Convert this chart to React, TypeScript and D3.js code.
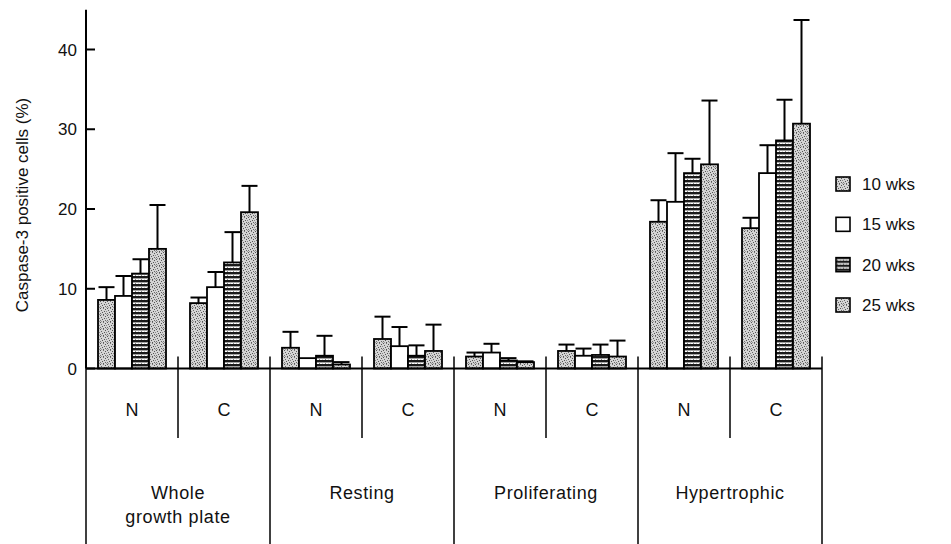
import React from "react";
import * as d3 from "d3";

// ---- data ----
const regions = ["Whole growth plate", "Resting", "Proliferating", "Hypertrophic"];
const regionLines = [["Whole", "growth plate"], ["Resting"], ["Proliferating"], ["Hypertrophic"]];
const conditions = ["N", "C"];
const seriesNames = ["10 wks", "15 wks", "20 wks", "25 wks"];
const yTicks = [0, 10, 20, 30, 40];

// order of values: Whole N, Whole C, Resting N, Resting C, Prolif N, Prolif C, Hypert N, Hypert C
const mean10 = [8.6, 8.2, 2.6, 3.7, 1.5, 2.2, 18.4, 17.6];
const mean15 = [9.1, 10.2, 1.3, 2.8, 2.0, 1.6, 20.9, 24.5];
const mean20 = [11.9, 13.3, 1.6, 1.6, 1.0, 1.7, 24.5, 28.6];
const mean25 = [15.0, 19.6, 0.5, 2.2, 0.8, 1.5, 25.6, 30.7];

const sd10 = [1.6, 0.7, 2.0, 2.8, 0.5, 0.8, 2.7, 1.3];
const sd15 = [2.5, 1.9, 0.0, 2.4, 1.1, 0.9, 6.1, 3.5];
const sd20 = [1.8, 3.8, 2.5, 1.3, 0.3, 1.3, 1.8, 5.1];
const sd25 = [5.5, 3.3, 0.3, 3.3, 0.1, 2.0, 8.0, 13.0];

const means = [mean10, mean15, mean20, mean25];
const sds = [sd10, sd15, sd20, sd25];
const fills = ["url(#stipple)", "#ffffff", "url(#stripes)", "url(#stipple)"];

// stipple dot layout within a 7x7 tile (texture only)
const stippleDots: [number, number, string][] = [
  [0, 0, "#555"], [3, 0, "#777"], [5, 1, "#555"], [1, 2, "#666"], [4, 3, "#555"],
  [6, 3, "#888"], [2, 4, "#555"], [0, 5, "#777"], [5, 5, "#666"], [3, 6, "#555"],
  [1, 6, "#999"], [6, 6, "#999"],
];

const FONT = "'Liberation Sans', Arial, Helvetica, sans-serif";

export default function App() {
  const W = 951;
  const H = 544;
  const xLeft = 86;
  const xRight = 822;
  const y = d3.scaleLinear().domain([0, 40]).range([368.5, 49.5]);
  const yBase = y(0);
  const yAxisTop = y(45);

  const subKeys = regions.flatMap((r) => conditions.map((c) => r + "|" + c));
  const xSub = d3.scaleBand().domain(subKeys).range([xLeft, xRight]).padding(0);
  const bw = xSub.bandwidth();
  const xSer = d3.scaleBand().domain(seriesNames).range([12, bw - 12]).padding(0);
  const xReg = d3.scaleBand().domain(regions).range([xLeft, xRight]).padding(0);

  const legendY = d3.scalePoint().domain(seriesNames).range([184, 305]);

  return (
    <svg
      width={W}
      height={H}
      style={{ position: "absolute", left: 0, top: 0, background: "#fff" }}
      fontFamily={FONT}
    >
      <defs>
        <pattern id="stipple" width="7" height="7" patternUnits="userSpaceOnUse">
          <rect width="7" height="7" fill="#d4d4d4" />
          {stippleDots.map(([dx, dy, c], k) => (
            <rect key={k} x={dx} y={dy} width="1" height="1" fill={c} />
          ))}
        </pattern>
        <pattern id="stripes" width="6" height="4" patternUnits="userSpaceOnUse">
          <rect width="6" height="4" fill="#ffffff" />
          <rect x="0" y="0" width="6" height="2.4" fill="#1a1a1a" />
          <rect x="1" y="3" width="1" height="1" fill="#888" />
          <rect x="4" y="2.5" width="1" height="1" fill="#aaa" />
        </pattern>
      </defs>

      {/* bars */}
      {subKeys.map((key, i) => (
        <g key={key} transform={`translate(${xSub(key)},0)`}>
          {seriesNames.map((s, j) => {
            const v = means[j][i];
            const e = sds[j][i];
            const bx = xSer(s)!;
            const w = xSer.bandwidth();
            const cx = bx + w / 2;
            return (
              <g key={s}>
                {e > 0 && (
                  <g stroke="#000" strokeWidth={2}>
                    <line x1={cx} x2={cx} y1={y(v)} y2={y(v + e)} />
                    <line x1={cx - 8} x2={cx + 8} y1={y(v + e)} y2={y(v + e)} />
                  </g>
                )}
                <rect
                  x={bx}
                  y={y(v)}
                  width={w}
                  height={yBase - y(v)}
                  fill={fills[j]}
                  stroke="#000"
                  strokeWidth={1.8}
                />
              </g>
            );
          })}
        </g>
      ))}

      {/* y axis */}
      <line x1={xLeft} x2={xLeft} y1={yAxisTop} y2={yBase} stroke="#000" strokeWidth={2} />
      {yTicks.map((t) => (
        <g key={t}>
          <line x1={xLeft} x2={xLeft + 9} y1={y(t)} y2={y(t)} stroke="#000" strokeWidth={2} />
          <text x={xLeft - 9} y={y(t)} dy="0.36em" textAnchor="end" fontSize={17} fill="#111">
            {t}
          </text>
        </g>
      ))}
      <text
        transform={`translate(28,${205}) rotate(-90)`}
        textAnchor="middle"
        fontSize={17}
        fill="#111"
      >
        Caspase-3 positive cells (%)
      </text>

      {/* x baseline */}
      <line x1={xLeft} x2={xRight} y1={yBase} y2={yBase} stroke="#000" strokeWidth={2} />

      {/* table lines */}
      {regions.map((r) => (
        <line key={r} x1={xReg(r)!} x2={xReg(r)!} y1={yBase - 12} y2={H} stroke="#000" strokeWidth={1.5} />
      ))}
      <line x1={xRight} x2={xRight} y1={yBase - 12} y2={H} stroke="#000" strokeWidth={1.5} />
      {regions.map((r) => (
        <line
          key={r + "mid"}
          x1={xReg(r)! + xReg.bandwidth() / 2}
          x2={xReg(r)! + xReg.bandwidth() / 2}
          y1={yBase - 12}
          y2={438}
          stroke="#000"
          strokeWidth={1.5}
        />
      ))}

      {/* N / C labels */}
      {subKeys.map((key, i) => (
        <text
          key={key + "lab"}
          x={xSub(key)! + bw / 2}
          y={416}
          textAnchor="middle"
          fontSize={18}
          fill="#111"
        >
          {conditions[i % 2]}
        </text>
      ))}

      {/* region labels */}
      {regions.map((r, i) => (
        <text
          key={r + "lab"}
          x={xReg(r)! + xReg.bandwidth() / 2}
          y={499}
          textAnchor="middle"
          fontSize={18}
          letterSpacing={0.6}
          fill="#111"
        >
          {regionLines[i].map((ln, k) => (
            <tspan key={k} x={xReg(r)! + xReg.bandwidth() / 2} dy={k === 0 ? 0 : 24}>
              {ln}
            </tspan>
          ))}
        </text>
      ))}

      {/* legend */}
      {seriesNames.map((s, j) => (
        <g key={s + "leg"} transform={`translate(836,${legendY(s)})`}>
          <rect x={0} y={-7} width={14} height={14} fill={fills[j]} stroke="#000" strokeWidth={1.6} />
          <text x={26} y={0} dy="0.36em" fontSize={17} fill="#111">
            {s}
          </text>
        </g>
      ))}
    </svg>
  );
}
